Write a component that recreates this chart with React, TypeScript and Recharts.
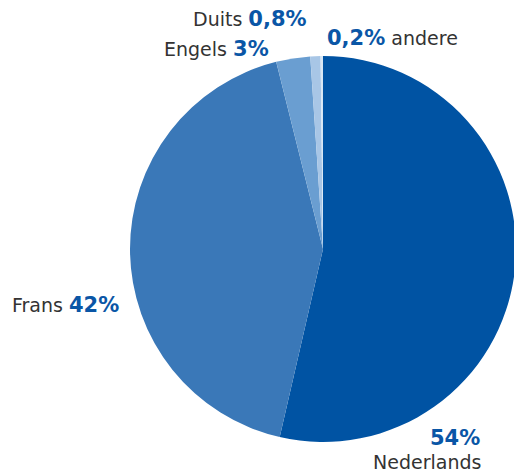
import React from "react";
import { PieChart, Pie, Cell } from "recharts";

const languages = ["Nederlands", "Frans", "Engels", "Duits", "andere"];
const shares = [53.6, 42.5, 2.85, 0.85, 0.2];
const shareLabels = ["54%", "42%", "3%", "0,8%", "0,2%"];

const COLORS = ["#0053a3", "#3a78b8", "#6a9ed1", "#a8c6e6", "#d8e6f4"];
const BLUE = "#0a56a6";
const GRAY = "#333333";

const data = languages.map((name, i) => ({ name, value: shares[i], pct: shareLabels[i] }));

// label anchor offsets relative to pie centre (layout only)
const LABEL_LAYOUT = [
  { dx: 107, dy: 196, mode: "stacked", nx: 50, ny: 220 },
  { dx: -311, dy: 63, mode: "nameFirst" },
  { dx: -159, dy: -193, mode: "nameFirst" },
  { dx: -130, dy: -223, mode: "nameFirst" },
  { dx: 4, dy: -204, mode: "pctFirst" },
];

const renderLabel = (props: any) => {
  const { cx, cy, index } = props;
  const d = data[index];
  const l = LABEL_LAYOUT[index];
  const x = cx + l.dx;
  const y = cy + l.dy;
  const nameStyle = { fontFamily: "DejaVu Sans", fontSize: 19, fill: GRAY };
  const pctStyle = { fontFamily: "DejaVu Sans", fontWeight: 700, fontSize: 21, fill: BLUE };
  if (l.mode === "stacked") {
    return (
      <g key={"l" + index}>
        <text x={x} y={y} textAnchor="start" style={pctStyle}>{d.pct}</text>
        <text x={cx + (l.nx as number)} y={cy + (l.ny as number)} textAnchor="start" style={nameStyle}>{d.name}</text>
      </g>
    );
  }
  if (l.mode === "pctFirst") {
    return (
      <text key={"l" + index} x={x} y={y} textAnchor="start">
        <tspan style={pctStyle}>{d.pct}</tspan>
        <tspan style={nameStyle}> {d.name}</tspan>
      </text>
    );
  }
  return (
    <text key={"l" + index} x={x} y={y} textAnchor="start">
      <tspan style={nameStyle}>{d.name} </tspan>
      <tspan style={pctStyle}>{d.pct}</tspan>
    </text>
  );
};

export default function App() {
  return (
    <div style={{ position: "absolute", left: 0, top: 0, width: 514, height: 475, background: "#fff" }}>
      <PieChart width={514} height={475} margin={{ top: 0, right: 0, bottom: 0, left: 0 }}>
        <Pie
          data={data}
          dataKey="value"
          nameKey="name"
          cx={323}
          cy={249}
          outerRadius={193}
          innerRadius={0}
          startAngle={90}
          endAngle={-270}
          stroke="none"
          label={renderLabel}
          labelLine={false}
          isAnimationActive={false}
        >
          {data.map((d, i) => (
            <Cell key={d.name} fill={COLORS[i]} />
          ))}
        </Pie>
      </PieChart>
    </div>
  );
}
